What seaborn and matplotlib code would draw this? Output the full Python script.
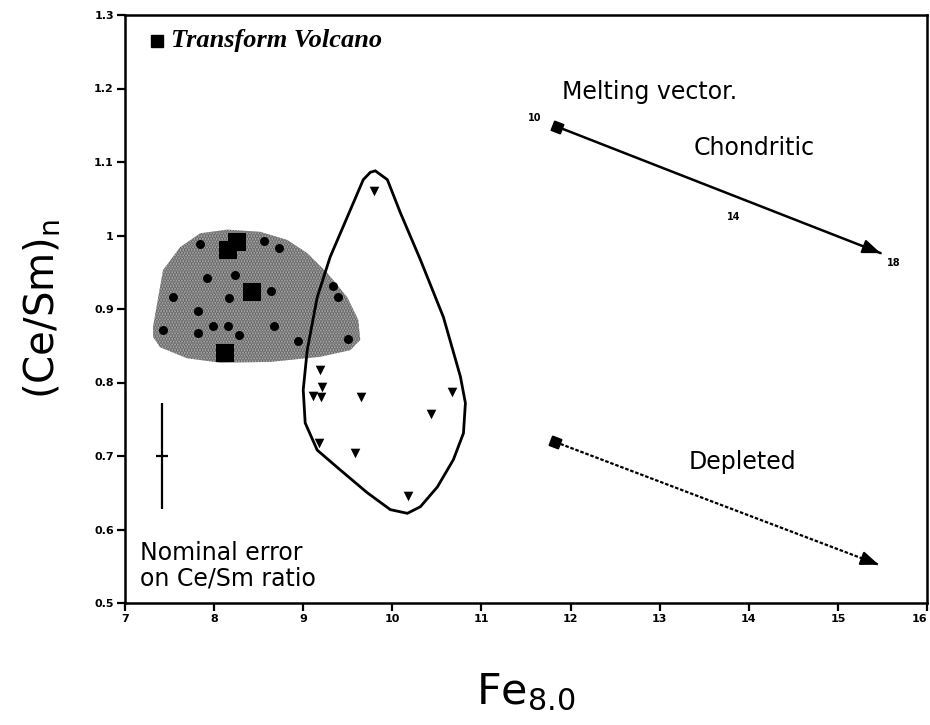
import matplotlib
matplotlib.use("Agg")
import matplotlib.pyplot as plt
import seaborn as sns
import pandas as pd
import numpy as np

# Outline of the shaded (ridge) field
shade_x = [7.315, 7.427, 7.618, 7.843, 8.146, 8.517, 8.820, 9.045, 9.270, 9.494,
           9.618, 9.640, 9.528, 9.191, 8.629, 8.067, 7.697, 7.393, 7.315]
shade_y = [0.876, 0.953, 0.984, 1.003, 1.008, 1.005, 0.994, 0.976, 0.949, 0.916,
           0.885, 0.858, 0.844, 0.835, 0.828, 0.827, 0.833, 0.848, 0.862]

# Outline of the open (teardrop) field
field_x = [9.809, 9.944, 10.090, 10.315, 10.573, 10.764, 10.820, 10.798, 10.685, 10.506,
           10.315, 10.169, 9.978, 9.719, 9.416, 9.157, 9.022, 9.000, 9.045, 9.157,
           9.303, 9.494, 9.674, 9.753]
field_y = [1.088, 1.076, 1.031, 0.967, 0.889, 0.808, 0.772, 0.731, 0.695, 0.658,
           0.631, 0.622, 0.627, 0.650, 0.681, 0.708, 0.745, 0.790, 0.844, 0.916,
           0.971, 1.025, 1.076, 1.086]

# Ridge samples (small dots)
ridge_fe = [7.843, 8.562, 8.730, 7.921, 8.236, 7.539, 8.169, 8.640, 7.820, 7.427,
            7.820, 7.989, 8.157, 8.281, 8.674, 8.944, 9.506, 9.337, 9.393]
ridge_cesm = [0.988, 0.993, 0.983, 0.942, 0.946, 0.916, 0.915, 0.925, 0.897, 0.871,
              0.867, 0.877, 0.877, 0.865, 0.877, 0.856, 0.859, 0.931, 0.916]

# Transform Volcano samples
tv_fe = [8.258, 8.157, 8.427, 8.124]
tv_cesm = [0.991, 0.980, 0.923, 0.840]

# Samples inside the open field
open_fe = [9.798, 9.191, 9.213, 9.112, 9.202, 9.652, 10.674, 10.438, 9.180, 9.584, 10.180]
open_cesm = [1.061, 0.817, 0.794, 0.782, 0.780, 0.780, 0.787, 0.757, 0.718, 0.704, 0.646]

# Melting vectors (start, end)
chond_fe = [11.85, 15.48]
chond_cesm = [1.148, 0.976]
depl_fe = [11.83, 15.46]
depl_cesm = [0.719, 0.552]

# Nominal error bar
err_fe, err_cesm, err_y, err_x = 7.416, 0.700, 0.072, 0.07

xticks = [7, 8, 9, 10, 11, 12, 13, 14, 15, 16]
yticks = [0.5, 0.6, 0.7, 0.8, 0.9, 1.0, 1.1, 1.2, 1.3]
ytick_labels = ["0.5", "0.6", "0.7", "0.8", "0.9", "1", "1.1", "1.2", "1.3"]

sns.set_theme(style="ticks")
plt.rcParams["font.family"] = ["DejaVu Sans"]
plt.rcParams["mathtext.default"] = "regular"
plt.rcParams["hatch.linewidth"] = 1.7
plt.rcParams["text.color"] = "black"
plt.rcParams["axes.labelcolor"] = "black"
plt.rcParams["xtick.color"] = "black"
plt.rcParams["ytick.color"] = "black"

fig = plt.figure(figsize=(9.3, 7.25), dpi=100)
ax = fig.add_axes([125 / 930, 1 - 603 / 725, 802 / 930, 588 / 725])

# shaded field
shade = ax.fill(shade_x, shade_y, facecolor="#bcbcbc", edgecolor="#5a5a5a",
                hatch="......", linewidth=0, zorder=1)

# open field outline
ax.fill(field_x, field_y, facecolor="none", edgecolor="black", linewidth=2.0, zorder=3)

ridge = pd.DataFrame({"Fe": ridge_fe, "CeSm": ridge_cesm})
tv = pd.DataFrame({"Fe": tv_fe, "CeSm": tv_cesm})
opn = pd.DataFrame({"Fe": open_fe, "CeSm": open_cesm})

sns.scatterplot(data=ridge, x="Fe", y="CeSm", ax=ax, marker="o", s=42,
                color="black", edgecolor="black", linewidth=0, zorder=4)
sns.scatterplot(data=tv, x="Fe", y="CeSm", ax=ax, marker="s", s=150,
                color="black", edgecolor="black", linewidth=0, zorder=5)
sns.scatterplot(data=opn, x="Fe", y="CeSm", ax=ax, marker="v", s=48,
                color="black", edgecolor="black", linewidth=0, zorder=4)

# melting vectors: shaft then solid arrow head
head = "-|>,head_length=0.9,head_width=0.35"
ax.plot(chond_fe, chond_cesm, color="black", lw=1.8, zorder=4)
ax.plot(depl_fe, depl_cesm, color="black", lw=1.6, linestyle=(0, (1.6, 0.8)), zorder=4)
for fx, fy in [(chond_fe, chond_cesm), (depl_fe, depl_cesm)]:
    t = 0.97
    ax.annotate("", xy=(fx[1], fy[1]),
                xytext=(fx[0] + t * (fx[1] - fx[0]), fy[0] + t * (fy[1] - fy[0])),
                arrowprops=dict(arrowstyle=head, color="black", lw=1.6,
                                shrinkA=0, shrinkB=0), zorder=4)
    ax.plot([fx[0]], [fy[0]], marker=(4, 0, 24), markersize=10,
            color="black", linestyle="none", zorder=5)

ax.text(11.60, 1.160, "10", fontsize=7, fontweight="bold", ha="center", va="center")
ax.text(13.83, 1.025, "14", fontsize=7, fontweight="bold", ha="center", va="center")
ax.text(15.63, 0.963, "18", fontsize=7, fontweight="bold", ha="center", va="center")
ax.text(11.90, 1.195, "Melting vector.", fontsize=17, ha="left", va="center")
ax.text(14.06, 1.119, "Chondritic", fontsize=17, ha="center", va="center")
ax.text(13.93, 0.692, "Depleted", fontsize=17, ha="center", va="center")

# nominal error
ax.errorbar([err_fe], [err_cesm], yerr=err_y, xerr=err_x, fmt="none",
            ecolor="black", elinewidth=1.6, capsize=0, zorder=4)
ax.text(7.17, 0.568, "Nominal error", fontsize=17, ha="left", va="center")
ax.text(7.17, 0.534, "on Ce/Sm ratio", fontsize=17, ha="left", va="center")

# legend entry
ax.plot([7.36], [1.265], marker="s", markersize=9, color="black", linestyle="none")
ax.text(7.52, 1.265, "Transform Volcano", fontsize=19, style="italic",
        fontweight="bold", family=["Liberation Serif", "DejaVu Serif"],
        ha="left", va="center")

ax.set_xlim(7, 16)
ax.set_ylim(0.5, 1.3)
ax.set_xticks(xticks)
ax.set_yticks(yticks)
ax.set_yticklabels(ytick_labels)
for lab in ax.get_xticklabels() + ax.get_yticklabels():
    lab.set_fontweight("bold")
    lab.set_fontsize(8)
ax.get_xticklabels()[-1].set_horizontalalignment("right")
ax.tick_params(axis="both", direction="out", length=6, width=1.6, color="black", pad=2)

for sp in ax.spines.values():
    sp.set_visible(True)
    sp.set_linewidth(1.8)
    sp.set_color("black")

ax.set_xlabel(r"Fe$_{8.0}$", fontsize=31, labelpad=34)
ax.set_ylabel(r"(Ce/Sm)$_n$", fontsize=29, labelpad=22)

fig.savefig("out.png", dpi=100)
